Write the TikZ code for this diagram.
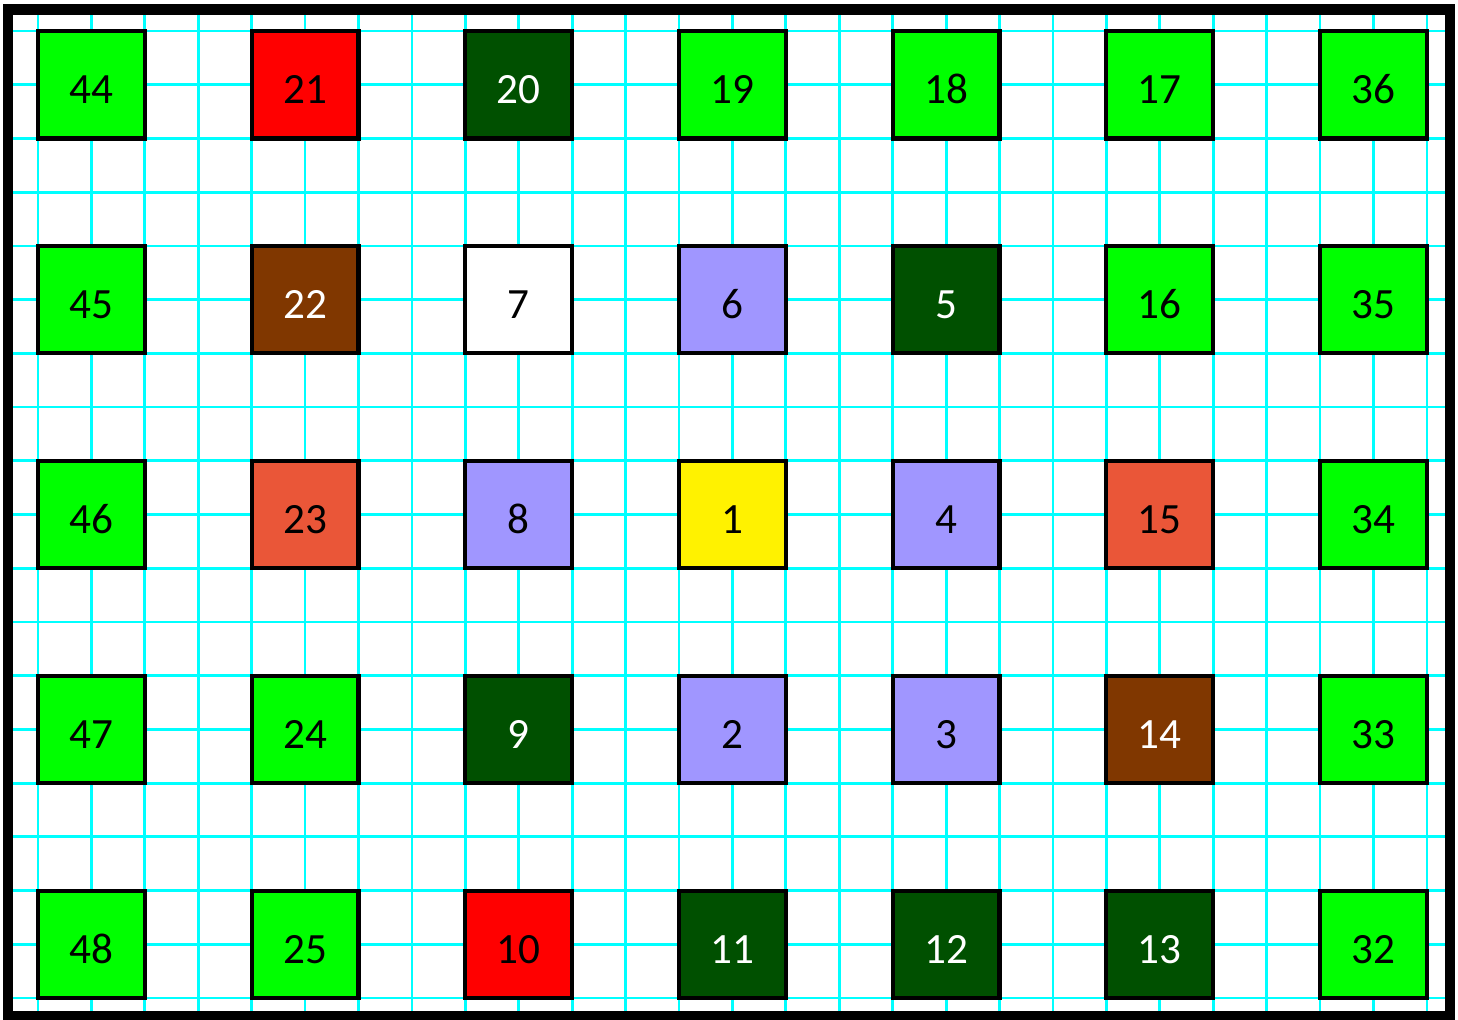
\documentclass[tikz,border=0pt]{standalone}
\usepackage{fontspec}
\setmainfont{Carlito}
\usepackage{tikz}

\definecolor{leafgreen}{RGB}{0,255,0}
\definecolor{forestgreen}{RGB}{0,80,0}
\definecolor{coralred}{RGB}{234,86,56}
\definecolor{rustbrown}{RGB}{128,55,0}
\definecolor{lilac}{RGB}{160,150,255}
\definecolor{gridcyan}{RGB}{0,255,255}

\tikzset{
    cellbox/.style={draw=black, line width=2.2pt, minimum width=2cm, minimum height=2.011cm,
        inner sep=0pt, text height=20pt, text depth=0pt, font=\fontsize{23}{27}\selectfont},
    leafbox/.style={cellbox, fill=leafgreen},
    forestbox/.style={cellbox, fill=forestgreen, text=white},
    redbox/.style={cellbox, fill=red},
    brownbox/.style={cellbox, fill=rustbrown, text=white},
    coralbox/.style={cellbox, fill=coralred},
    lilacbox/.style={cellbox, fill=lilac},
    yellowbox/.style={cellbox, fill=yellow},
    whitebox/.style={cellbox, fill=white}
}

\begin{document}
\begin{tikzpicture}[x=1cm, y=1.0056cm]
        \useasboundingbox (-0.711,-0.391) rectangle (26.582,18.578);
        % graph paper
        \begin{scope}
            \clip (-0.562,-0.335) rectangle (26.43,18.40);
            \draw[gridcyan, line width=1.5pt, step=1] (-1,-1) grid (27,19);
        \end{scope}
        \draw[line width=5.6pt] (-0.562,-0.335) rectangle (26.43,18.40);
        % rows of numbered squares, top to bottom
        \foreach \lbl/\kind [count=\c from 0] in {44/leafbox, 21/redbox, 20/forestbox, 19/leafbox, 18/leafbox, 17/leafbox, 36/leafbox} {
            \node[\kind] (sq\lbl) at ({4*\c+1}, 17) {\lbl};
        }
        \foreach \lbl/\kind [count=\c from 0] in {45/leafbox, 22/brownbox, 7/whitebox, 6/lilacbox, 5/forestbox, 16/leafbox, 35/leafbox} {
            \node[\kind] (sq\lbl) at ({4*\c+1}, 13) {\lbl};
        }
        \foreach \lbl/\kind [count=\c from 0] in {46/leafbox, 23/coralbox, 8/lilacbox, 1/yellowbox, 4/lilacbox, 15/coralbox, 34/leafbox} {
            \node[\kind] (sq\lbl) at ({4*\c+1}, 9) {\lbl};
        }
        \foreach \lbl/\kind [count=\c from 0] in {47/leafbox, 24/leafbox, 9/forestbox, 2/lilacbox, 3/lilacbox, 14/brownbox, 33/leafbox} {
            \node[\kind] (sq\lbl) at ({4*\c+1}, 5) {\lbl};
        }
        \foreach \lbl/\kind [count=\c from 0] in {48/leafbox, 25/leafbox, 10/redbox, 11/forestbox, 12/forestbox, 13/forestbox, 32/leafbox} {
            \node[\kind] (sq\lbl) at ({4*\c+1}, 1) {\lbl};
        }
    \end{tikzpicture}
\end{document}
